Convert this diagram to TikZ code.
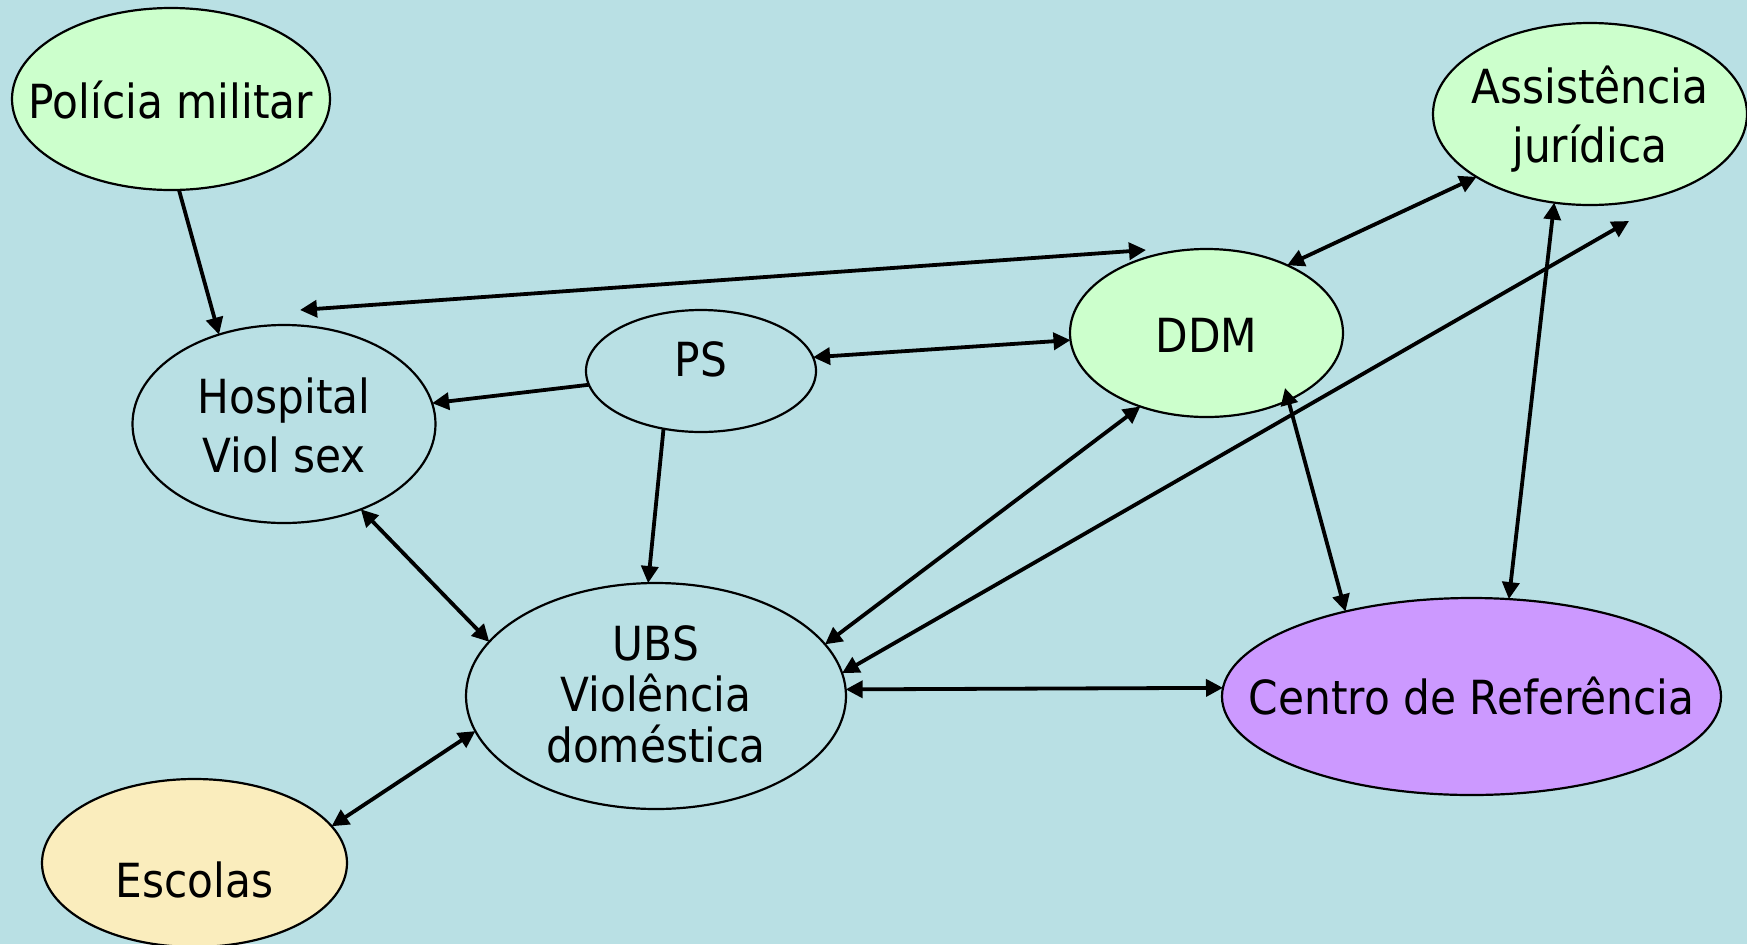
\documentclass[tikz,border=0pt]{standalone}
\usepackage{fontspec}
\setmainfont{DejaVu Sans}[FakeStretch=0.9]
\usetikzlibrary{arrows.meta,shapes.geometric,calc}
\definecolor{bgblue}{RGB}{185,224,228}
\definecolor{lgreen}{RGB}{204,255,204}
\definecolor{lyellow}{RGB}{250,237,189}
\definecolor{lpurple}{RGB}{204,153,255}
\newcommand\ntext[2]{\makebox[0pt]{\raisebox{\dimexpr#1pt/2\relax}{\begin{tabular}[t]{@{}c@{}}#2\end{tabular}}}}
\tikzset{
  oval/.style={ellipse, draw=black, line width=1.1pt, inner sep=0pt, outer sep=0pt,
    text height=0pt, text depth=0pt, font=\fontsize{23.5}{29.5}\selectfont},
  esize/.style 2 args={minimum width=#1pt, minimum height=#2pt},
  dlink/.style={line width=1.9pt, {Triangle[length=8.5pt,width=8.5pt]}-{Triangle[length=8.5pt,width=8.5pt]}},
  slink/.style={line width=1.9pt, -{Triangle[length=8.5pt,width=8.5pt]}}
}
\begin{document}
\begin{tikzpicture}[x=0.5pt,y=-0.5pt]
\fill[bgblue] (0,0) rectangle (1747,944);
\useasboundingbox (0,0) rectangle (1747,944);

\node[oval, fill=lgreen, esize={159}{91}] (pm) at (171,99) {\ntext{-19}{Polícia militar}};
\node[oval, fill=lgreen, esize={157}{91}] (aj) at (1590,114) {\ntext{11}{Assistência\\jurídica}};
\node[oval, esize={151.5}{99}] (hosp) at (284,424) {\ntext{11}{Hospital\\Viol sex}};
\node[oval, esize={115}{61}] (ps) at (701,371) {\ntext{-5}{PS}};
\node[oval, fill=lgreen, esize={136.5}{84}] (ddm) at (1206.5,333) {\ntext{-19}{DDM}};
\node[oval, esize={190}{113}] (ubs) at (656,696) {\fontsize{23.5}{23}\selectfont\ntext{36}{UBS\\Violência\\doméstica}};
\node[oval, fill=lpurple, esize={249.5}{98.5}] (cr) at (1471.5,696.5) {\ntext{-17.5}{Centro de Referência}};
\node[oval, fill=lyellow, esize={152.5}{84}] (esc) at (194.5,863) {\ntext{-34}{Escolas}};

\coordinate (hfree) at ($(hosp)+(16,-114)$);
\coordinate (dfree) at ($(ddm)+(-60.5,-83)$);
\coordinate (afree) at ($(aj)+(39,107)$);
\coordinate (dinner) at ($(ddm)+(78.5,55)$);

\draw[slink] (pm.-85.6) -- (hosp.126);
\draw[dlink] (hfree) -- (dfree);
\draw[slink] (ps.187.9) -- (hosp.8.7);
\draw[dlink] (ps.7) -- (ddm.183.4);
\draw[slink] (ps.237.4) -- (ubs.94.5);
\draw[dlink] (hosp.312.9) -- (ubs.162.9);
\draw[dlink] (esc.15.7) -- (ubs.191.5);
\draw[dlink] (ubs.17.1) -- (ddm.228.7);
\draw[dlink] (ubs.7.6) -- (afree);
\draw[dlink] (ubs.2.4) -- (cr.178);
\draw[dlink] (ddm.40.9) -- (aj.209);
\draw[dlink] (dinner) -- (cr.146.9);
\draw[dlink] (aj.248.1) -- (cr.69.3);
\end{tikzpicture}
\end{document}
